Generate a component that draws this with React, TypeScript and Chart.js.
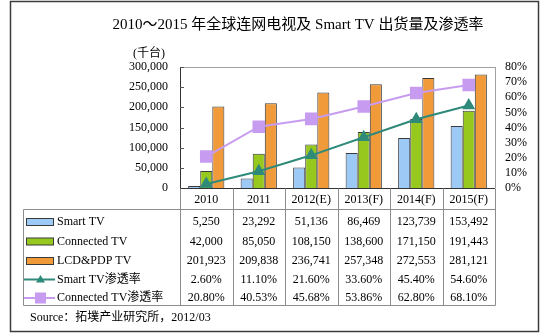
import React, { useEffect, useRef } from "react";
import { Chart, registerables } from "chart.js";

Chart.register(...registerables);

const title = "2010～2015 年全球连网电视及 Smart TV 出货量及渗透率";
const unitLabel = "(千台)";
const sourceLabel = "Source：拓墣产业研究所，2012/03";
const categories = ["2010", "2011", "2012(E)", "2013(F)", "2014(F)", "2015(F)"];
const seriesNames = ["Smart TV", "Connected TV", "LCD&PDP TV", "Smart TV渗透率", "Connected TV渗透率"];
const smartTV = [5250, 23292, 51136, 86469, 123739, 153492];
const connectedTV = [42000, 85050, 108150, 138600, 171150, 191443];
const lcdPdpTV = [201923, 209838, 236741, 257348, 272553, 281121];
const smartRate = [2.6, 11.1, 21.6, 33.6, 45.4, 54.6];
const connectedRate = [20.8, 40.53, 45.68, 53.86, 62.8, 68.1];

const FONT = '"Liberation Serif", "Noto Sans CJK SC", serif';
const COLORS = {
  smart: "#9cc9f5",
  connected: "#96c81e",
  lcd: "#f09a3a",
  smartRate: "#2f8a7a",
  connectedRate: "#c79cf0",
  barBorder: "#3a3a3a",
  grid: "#8c8c8c",
};

const fmtNum = (v: number) => v.toLocaleString("en-US");
const fmtPct = (v: number) => v.toFixed(2) + "%";

const decorPlugin = {
  id: "decor",
  beforeDatasetsDraw(chart: any) {
    const { ctx, chartArea, scales } = chart;
    const { left, right, top, bottom } = chartArea;
    ctx.save();
    ctx.lineWidth = 1;
    ctx.strokeStyle = "#a0a0a0";
    ctx.beginPath();
    ctx.moveTo(left, top + 0.5);
    ctx.lineTo(right, top + 0.5);
    ctx.moveTo(Math.round(right) + 0.5, top);
    ctx.lineTo(Math.round(right) + 0.5, bottom);
    ctx.stroke();
    ctx.strokeStyle = "#333";
    ctx.beginPath();
    ctx.moveTo(Math.round(left) + 0.5, top);
    ctx.lineTo(Math.round(left) + 0.5, bottom);
    ctx.stroke();
    const y = scales.y;
    ctx.strokeStyle = "#555";
    ctx.beginPath();
    for (const t of y.ticks) {
      const py = Math.round(y.getPixelForValue(t.value)) + 0.5;
      ctx.moveTo(left, py);
      ctx.lineTo(left + 4, py);
    }
    ctx.stroke();
    ctx.restore();
  },
  afterDraw(chart: any) {
    const { ctx, chartArea, scales } = chart;
    const { left, right, bottom } = chartArea;
    const x = scales.x;
    ctx.save();
    ctx.strokeStyle = "#3c3c3c";
    ctx.lineWidth = 1.5;
    ctx.strokeRect(10.5, 1.5, 528, 330);

    ctx.fillStyle = "#000";
    ctx.textAlign = "center";
    ctx.textBaseline = "middle";
    ctx.font = "15px " + FONT;
    ctx.fillText(title, 298, 25);
    ctx.font = "12px " + FONT;
    ctx.fillText(unitLabel, 149, 54);

    ctx.lineWidth = 1;
    ctx.strokeStyle = "#333";
    ctx.beginPath();
    ctx.moveTo(left, Math.round(bottom) + 0.5);
    ctx.lineTo(right, Math.round(bottom) + 0.5);
    ctx.stroke();

    const tableLeft = 23.5;
    const headerBottom = 209.5;
    const tableBottom = 305.5;
    const tb = Math.round(bottom) + 0.5;
    ctx.strokeStyle = COLORS.grid;
    ctx.beginPath();
    ctx.moveTo(tableLeft, headerBottom);
    ctx.lineTo(Math.round(right) + 0.5, headerBottom);
    ctx.moveTo(tableLeft, tableBottom);
    ctx.lineTo(Math.round(right) + 0.5, tableBottom);
    ctx.moveTo(tableLeft, headerBottom);
    ctx.lineTo(tableLeft, tableBottom);
    const catW = (right - left) / categories.length;
    for (let i = 0; i <= categories.length; i++) {
      const px = Math.round(left + i * catW) + 0.5;
      ctx.moveTo(px, tb);
      ctx.lineTo(px, tableBottom);
    }
    ctx.stroke();

    ctx.fillStyle = "#000";
    ctx.font = "12px " + FONT;
    ctx.textAlign = "center";
    categories.forEach((c, i) => {
      ctx.fillText(c, x.getPixelForValue(i), 200);
    });
    const rowY = [222, 241.5, 261, 279.5, 298];
    const rows = [
      smartTV.map(fmtNum),
      connectedTV.map(fmtNum),
      lcdPdpTV.map(fmtNum),
      smartRate.map(fmtPct),
      connectedRate.map(fmtPct),
    ];
    rows.forEach((r, ri) => {
      r.forEach((v, i) => ctx.fillText(v, x.getPixelForValue(i), rowY[ri]));
    });

    ctx.textAlign = "left";
    const swFill = [COLORS.smart, COLORS.connected, COLORS.lcd];
    seriesNames.forEach((name, ri) => {
      const cy = rowY[ri];
      if (ri < 3) {
        ctx.fillStyle = swFill[ri];
        ctx.fillRect(26.5, cy - 3.5, 27, 7);
        ctx.strokeStyle = COLORS.barBorder;
        ctx.lineWidth = 1;
        ctx.strokeRect(26.5, cy - 3.5, 27, 7);
      } else {
        const col = ri === 3 ? COLORS.smartRate : COLORS.connectedRate;
        ctx.strokeStyle = col;
        ctx.lineWidth = 2;
        ctx.beginPath();
        ctx.moveTo(24, cy);
        ctx.lineTo(55, cy);
        ctx.stroke();
        ctx.fillStyle = col;
        ctx.beginPath();
        if (ri === 3) {
          ctx.moveTo(40.5, cy - 4.5);
          ctx.lineTo(45, cy + 3);
          ctx.lineTo(36, cy + 3);
          ctx.closePath();
          ctx.fill();
        } else {
          ctx.fillRect(35, cy - 5.5, 11, 11);
        }
      }
      ctx.fillStyle = "#000";
      ctx.fillText(name, 57, cy);
    });

    ctx.fillText(sourceLabel, 30, 318);
    ctx.restore();
  },
};

export default function App() {
  const ref = useRef<HTMLCanvasElement | null>(null);
  useEffect(() => {
    if (!ref.current) return;
    const chart = new Chart(ref.current, {
      type: "bar",
      data: {
        labels: categories,
        datasets: [
          {
            type: "line",
            label: seriesNames[3],
            data: smartRate,
            yAxisID: "y2",
            borderColor: COLORS.smartRate,
            backgroundColor: COLORS.smartRate,
            borderWidth: 2,
            pointStyle: "triangle",
            pointRadius: 5.5,
            pointBackgroundColor: COLORS.smartRate,
            pointBorderColor: COLORS.smartRate,
            tension: 0,
            order: 0,
          } as any,
          {
            type: "line",
            label: seriesNames[4],
            data: connectedRate,
            yAxisID: "y2",
            borderColor: COLORS.connectedRate,
            backgroundColor: COLORS.connectedRate,
            borderWidth: 2,
            pointStyle: "rect",
            pointRadius: 7.5,
            pointBackgroundColor: COLORS.connectedRate,
            pointBorderColor: COLORS.connectedRate,
            tension: 0,
            order: 1,
          } as any,
          {
            label: seriesNames[0],
            data: smartTV,
            yAxisID: "y",
            backgroundColor: COLORS.smart,
            borderColor: COLORS.barBorder,
            borderWidth: 1,
            order: 2,
          },
          {
            label: seriesNames[1],
            data: connectedTV,
            yAxisID: "y",
            backgroundColor: COLORS.connected,
            borderColor: COLORS.barBorder,
            borderWidth: 1,
            order: 2,
          },
          {
            label: seriesNames[2],
            data: lcdPdpTV,
            yAxisID: "y",
            backgroundColor: COLORS.lcd,
            borderColor: COLORS.barBorder,
            borderWidth: 1,
            order: 2,
          },
        ],
      },
      options: {
        responsive: false,
        animation: false,
        devicePixelRatio: 1,
        layout: { padding: { top: 67, bottom: 146, left: 0, right: 0 } },
        datasets: { bar: { barPercentage: 1, categoryPercentage: 0.69 } },
        plugins: { legend: { display: false }, tooltip: { enabled: false }, title: { display: false } },
        scales: {
          x: { display: false },
          y: {
            position: "left",
            min: 0,
            max: 300000,
            grid: { display: false, drawTicks: false },
            border: { display: false },
            ticks: {
              stepSize: 50000,
              autoSkip: false,
              padding: 12,
              color: "#000",
              font: { family: FONT, size: 12 },
              callback: (v: any) => fmtNum(Number(v)),
            },
            afterFit: (s: any) => {
              s.width = 180;
            },
          },
          y2: {
            position: "right",
            min: 0,
            max: 80,
            grid: { display: false, drawTicks: false },
            border: { display: false },
            ticks: {
              stepSize: 10,
              autoSkip: false,
              padding: 10,
              color: "#000",
              font: { family: FONT, size: 12 },
              callback: (v: any) => v + "%",
            },
            afterFit: (s: any) => {
              s.width = 52;
            },
          },
        },
      },
      plugins: [decorPlugin],
    });
    return () => chart.destroy();
  }, []);
  return (
    <div style={{ position: "absolute", left: 0, top: 0, width: 547, height: 334, background: "#fff" }}>
      <canvas ref={ref} width={547} height={334} style={{ display: "block" }} />
    </div>
  );
}
